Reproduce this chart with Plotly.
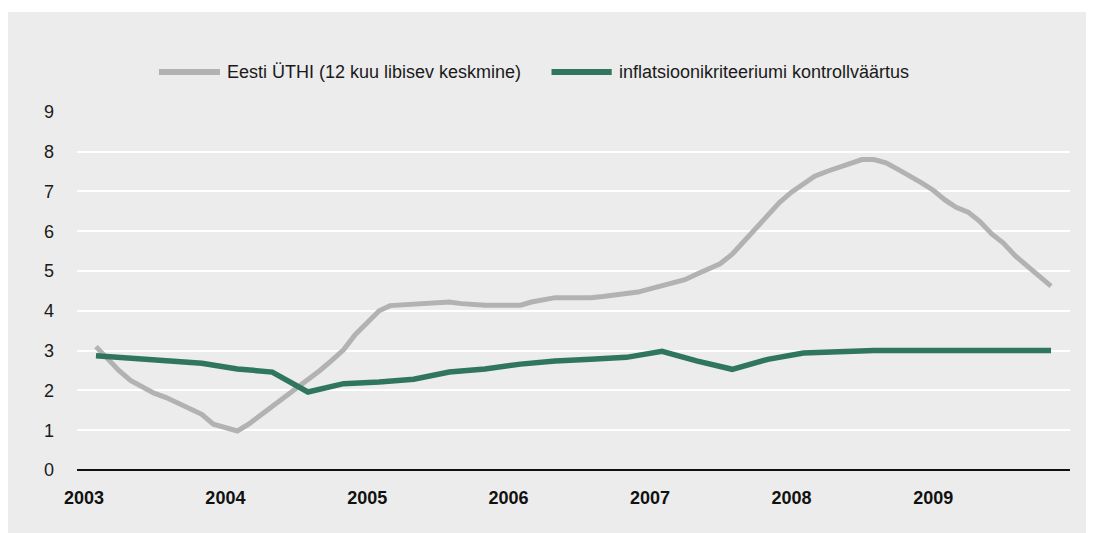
import plotly.graph_objects as go
import pandas as pd

# ---- data ----
cpi_months = pd.date_range("2003-02-01", "2009-11-01", freq="MS")
cpi_values = [
    3.10, 2.80, 2.50, 2.25, 2.07, 1.93, 1.82, 1.68, 1.54, 1.40, 1.15,   # Feb-Dec 2003
    1.05, 0.98, 1.15, 1.38, 1.60, 1.81, 2.02, 2.25, 2.50, 2.75, 3.02, 3.40,  # 2004
    3.72, 4.00, 4.13, 4.15, 4.15, 4.17, 4.20, 4.22, 4.18, 4.15, 4.14, 4.14,  # 2005
    4.14, 4.14, 4.22, 4.28, 4.33, 4.33, 4.32, 4.33, 4.36, 4.39, 4.42, 4.47,  # 2006
    4.55, 4.62, 4.70, 4.78, 4.92, 5.05, 5.18, 5.42, 5.75, 6.07, 6.42, 6.72,  # 2007
    6.98, 7.20, 7.38, 7.50, 7.60, 7.72, 7.80, 7.80, 7.72, 7.56, 7.40, 7.22,  # 2008
    7.03, 6.78, 6.60, 6.48, 6.25, 5.93, 5.70, 5.38, 5.12, 4.87, 4.62,        # Jan-Nov 2009
]
crit_months = pd.date_range("2003-02-01", "2009-11-01", freq="3MS")
crit_values = [
    2.87, 2.81, 2.77, 2.68, 2.54, 2.46, 1.96, 2.17, 2.21, 2.28,
    2.46, 2.54, 2.66, 2.74, 2.78, 2.83, 2.98, 2.74, 2.53, 2.78,
    2.94, 2.98, 3.00, 3.00, 3.00, 3.00, 3.00, 3.00,
]
series_names = ["Eesti ÜTHI (12 kuu libisev keskmine)", "inflatsioonikriteeriumi kontrollväärtus"]
series_colors = ["#B2B2B2", "#30765F"]
year_ticks = ["2003-01-01", "2004-01-01", "2005-01-01", "2006-01-01",
              "2007-01-01", "2008-01-01", "2009-01-01"]
year_labels = ["2003", "2004", "2005", "2006", "2007", "2008", "2009"]
y_ticks = list(range(0, 10))

FONT = "Liberation Sans, Arial, sans-serif"
BG = "#ECECEC"

fig = go.Figure()
fig.add_trace(go.Scatter(x=cpi_months, y=cpi_values, mode="lines", name=series_names[0],
                         line=dict(color=series_colors[0], width=5), showlegend=False))
fig.add_trace(go.Scatter(x=crit_months, y=crit_values, mode="lines", name=series_names[1],
                         line=dict(color=series_colors[1], width=5.5), showlegend=False))

OFF = 8  # page body margin
W, H = 1094, 533
L = 77 - OFF
T = 111 - OFF
R = W - (1070 - OFF)
B = H - (470 - OFF)
pw, ph = W - L - R, H - T - B

def px(xs):
    return (xs - OFF - L) / pw

def py(ys):
    return (H - B - (ys - OFF)) / ph

shapes = []
# white strip above the grey panel
shapes.append(dict(type="rect", xref="paper", yref="paper", x0=px(0), x1=px(W + 20),
                   y0=py(12), y1=py(0), fillcolor="white", line=dict(width=0), layer="above"))

# custom legend
leg_y = py(72)
leg_items = [(159, 220, 225), (551.5, 611.7, 616.7)]
annotations = []
for (x0, x1, xt), name, col in zip(leg_items, series_names, series_colors):
    shapes.append(dict(type="line", xref="paper", yref="paper", x0=px(x0), x1=px(x1),
                       y0=leg_y, y1=leg_y, line=dict(color=col, width=6)))
    annotations.append(dict(xref="paper", yref="paper", x=px(xt), y=leg_y, text=name,
                            showarrow=False, xanchor="left", yanchor="middle",
                            font=dict(family=FONT, size=18, color="#1a1a1a")))

fig.update_layout(
    width=W, height=H,
    margin=dict(l=L, r=R, t=T, b=B, pad=0),
    paper_bgcolor=BG, plot_bgcolor=BG,
    font=dict(family=FONT, size=18, color="#1a1a1a"),
    shapes=shapes, annotations=annotations,
    xaxis=dict(type="date", range=["2002-12-14", "2009-12-20"],
               tickvals=year_ticks, ticktext=[f"<b>{t}</b>" for t in year_labels],
               showgrid=False, zeroline=False, showline=False,
               ticks="", ticklabelstandoff=15,
               tickfont=dict(family=FONT, size=18, color="#111")),
    yaxis=dict(range=[0, 9.02], tickvals=y_ticks, showgrid=True, gridcolor="white",
               gridwidth=2, zeroline=True, zerolinecolor="#111", zerolinewidth=2,
               showline=False, ticks="", ticklabelstandoff=22,
               tickfont=dict(family=FONT, size=18, color="#1a1a1a")),
)

fig.write_html("out.html")
